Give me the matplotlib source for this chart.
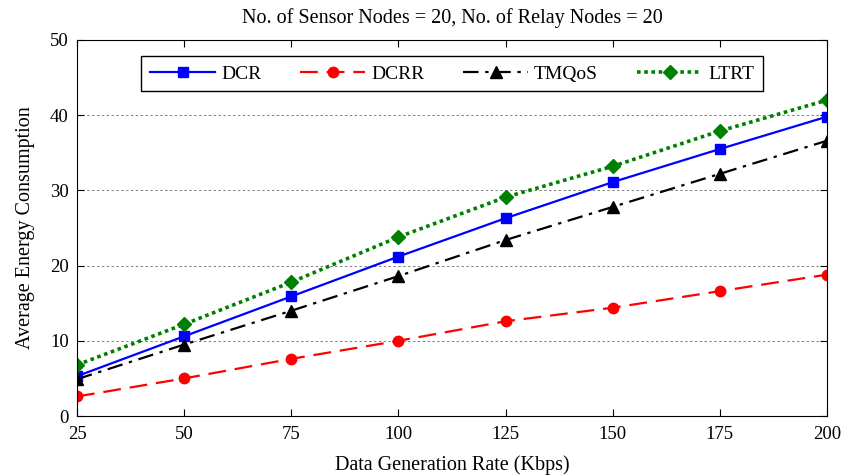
import matplotlib.pyplot as plt
import numpy as np

plt.rcParams['font.family'] = ['Liberation Serif', 'DejaVu Serif']

rates = [25, 50, 75, 100, 125, 150, 175, 200]
dcr = [5.3, 10.6, 15.9, 21.2, 26.3, 31.1, 35.5, 39.8]
dcrr = [2.6, 5.0, 7.6, 10.0, 12.6, 14.4, 16.6, 18.8]
tmqos = [4.9, 9.5, 14.0, 18.6, 23.4, 27.8, 32.2, 36.6]
ltrt = [6.8, 12.2, 17.8, 23.8, 29.1, 33.2, 37.9, 42.0]

fig = plt.figure(figsize=(8.56, 4.76), dpi=100)
ax = fig.add_axes([0.09, 0.126, 0.876, 0.79])

ax.plot(rates, dcr, color="#0000ff", lw=1.6, marker="s", ms=6.5, label="DCR")
ax.plot(rates, dcrr, color="#ff0000", lw=1.6, ls=(0, (8, 4)), marker="o", ms=7.5, label="DCRR")
ax.plot(rates, tmqos, color="black", lw=1.6, ls=(0, (7, 3, 1.5, 3)), marker="^", ms=8.5, label="TMQoS")
ax.plot(rates, ltrt, color="#008000", lw=2.6, ls=(0, (1, 1)), marker="D", ms=7.5, label="LTRT")

ax.set_xlim(25, 200)
ax.set_ylim(0, 50)
ax.set_xticks(rates)
ax.set_yticks(np.arange(0, 51, 10))
ax.tick_params(direction="in", top=True, right=True, labelsize=13.5, length=5)
ax.tick_params(axis="x", pad=7)
ax.tick_params(axis="y", pad=6)
ax.yaxis.grid(True, ls=(0, (2.5, 2.5)), color="gray", lw=0.7)
ax.set_xlabel("Data Generation Rate (Kbps)", fontsize=14.5, labelpad=9)
ax.set_ylabel("Average Energy Consumption", fontsize=14.5, labelpad=11)
ax.set_title("No. of Sensor Nodes = 20, No. of Relay Nodes = 20", fontsize=14.5, pad=12)

leg = ax.legend(loc="upper center", bbox_to_anchor=(0.5, 0.957), ncol=4, fontsize=14,
                frameon=True, fancybox=False, edgecolor="black", framealpha=1,
                handlelength=3.35, handletextpad=0.3, columnspacing=2.0,
                borderpad=0.45, borderaxespad=0)
leg.get_frame().set_linewidth(1.0)

fig.savefig("out.png", dpi=100)
